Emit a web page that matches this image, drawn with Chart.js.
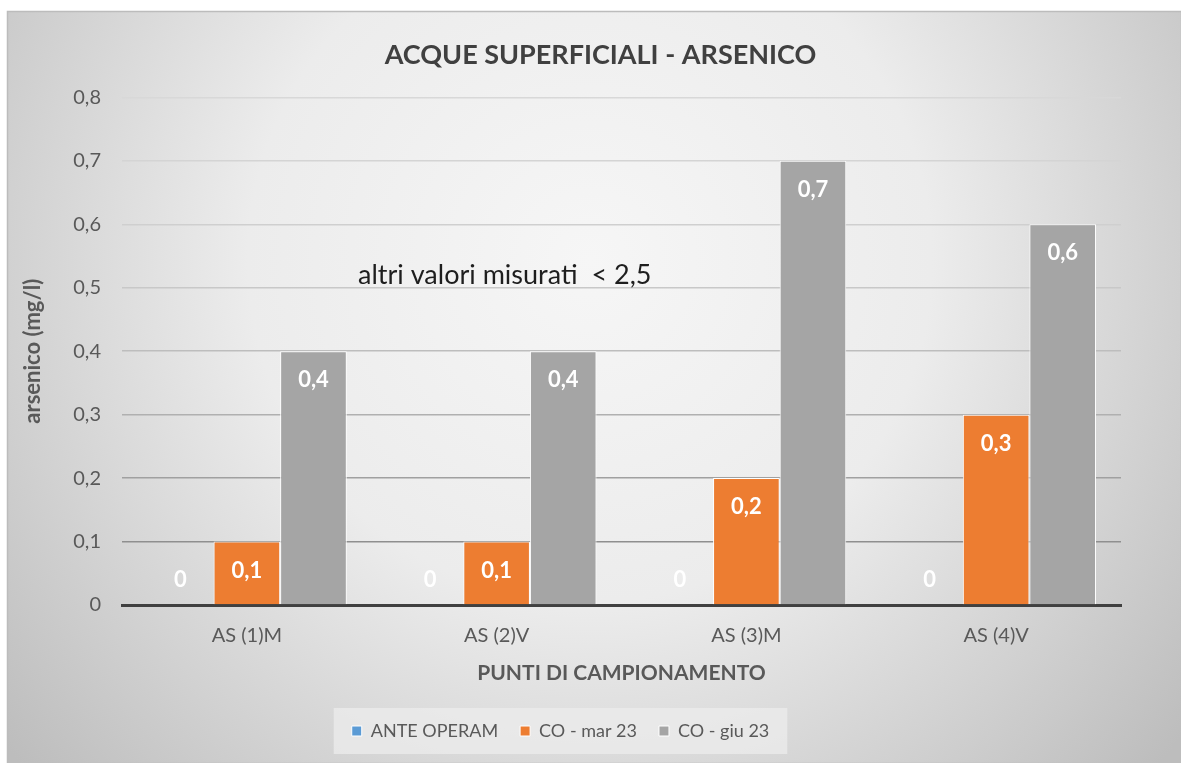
<!DOCTYPE html>
<html>
<head>
<meta charset="utf-8">
<title>Acque superficiali - arsenico</title>
<script src="https://cdn.jsdelivr.net/npm/chart.js@4.4.1/dist/chart.umd.min.js"></script>
<style>
    html, body { margin: 0; padding: 0; background: #ffffff; }
    #wrap { width: 1181px; height: 763px; position: relative; }
</style>
</head>
<body>
<div id="wrap"><canvas id="arsenicoChart" width="1181" height="763"></canvas></div>
<script>
// ===== DATA =====

const categories = ["AS (1)M", "AS (2)V", "AS (3)M", "AS (4)V"];
const seriesNames = ["ANTE OPERAM", "CO - mar 23", "CO - giu 23"];
const anteOperam = [0, 0, 0, 0];
const coMar23 = [0.1, 0.1, 0.2, 0.3];
const coGiu23 = [0.4, 0.4, 0.7, 0.6];
const yTickLabels = ["0", "0,1", "0,2", "0,3", "0,4", "0,5", "0,6", "0,7", "0,8"];
const noteText = "altri valori misurati  < 2,5";

// ===== STYLE =====

const FONT = "Lato, 'Open Sans', sans-serif";
const seriesColors = ["#5b9bd5", "#ed7d31", "#a5a5a5"];
const gridColors = ["#404040", "#8f8f8f", "#a0a0a0", "#b0b0b0", "#bdbdbd", "#c8c8c8", "#cfcfcf", "#d4d4d4", "#d8d8d8"];

const fmt = v => String(v).replace(".", ",");

// background, frame and legend box
const backdrop = {
    id: "backdrop",
    beforeDraw(chart) {
        const ctx = chart.ctx;
        ctx.save();
        ctx.fillStyle = "#ffffff";
        ctx.fillRect(0, 0, chart.width, chart.height);

        const g = ctx.createRadialGradient(590, 260, 0, 590, 260, 760);
        g.addColorStop(0, "#f6f6f6");
        g.addColorStop(0.45, "#ececec");
        g.addColorStop(1, "#bdbdbd");
        ctx.fillStyle = g;
        ctx.fillRect(7, 11, chart.width - 7, chart.height - 11);
        ctx.strokeStyle = "#bcbcbc";
        ctx.lineWidth = 1.5;
        ctx.strokeRect(7.5, 11.5, chart.width - 7, chart.height - 11);

        // legend panel
        const boxes = chart.legend.legendHitBoxes;
        if (boxes && boxes.length) {
            const first = boxes[0];
            const last = boxes[boxes.length - 1];
            const cy = first.top + first.height / 2;
            ctx.fillStyle = "rgba(236,236,236,0.75)";
            ctx.fillRect(first.left - 18, cy - 23, last.left + last.width - first.left + 36, 46);
        }
        ctx.restore();
    },
    afterLayout(chart) {
        // title sits centred on the whole frame, a bit right of the layout centre
        chart.titleBlock.left += 36;
        chart.titleBlock.right += 36;
        chart.legend.left -= 4;
        chart.legend.right -= 4;
    }
};

// white value labels + free text note
const valueLabels = {
    id: "valueLabels",
    afterDatasetsDraw(chart) {
        const ctx = chart.ctx;
        const x = chart.scales.x;
        const y = chart.scales.y;
        ctx.save();
        ctx.font = "bold 22px " + FONT;
        ctx.fillStyle = "#ffffff";
        ctx.textAlign = "center";
        ctx.textBaseline = "middle";
        chart.data.datasets.forEach((ds, i) => {
            const meta = chart.getDatasetMeta(i);
            meta.data.forEach((bar, j) => {
                const v = ds.data[j];
                const py = v === 0 ? bar.base - 25 : bar.y + 29;
                ctx.fillText(fmt(v), bar.x, py);
            });
        });

        ctx.font = "27px " + FONT;
        ctx.fillStyle = "#1e1e1e";
        ctx.textAlign = "left";
        ctx.textBaseline = "alphabetic";
        ctx.fillText(noteText, x.getPixelForValue(0.445), y.getPixelForValue(0.506));
        ctx.restore();
    }
};

new Chart(document.getElementById("arsenicoChart"), {
    type: "bar",
    data: {
        labels: categories,
        datasets: [
            { label: seriesNames[0], data: anteOperam, backgroundColor: seriesColors[0] },
            { label: seriesNames[1], data: coMar23, backgroundColor: seriesColors[1] },
            { label: seriesNames[2], data: coGiu23, backgroundColor: seriesColors[2] }
        ].map(d => Object.assign(d, {
            borderColor: "#ffffff",
            borderWidth: 1,
            categoryPercentage: 0.8,
            barPercentage: 1.0
        }))
    },
    options: {
        responsive: false,
        animation: false,
        layout: { padding: { left: 8, right: 60, top: 12, bottom: 13 } },
        plugins: {
            title: {
                display: true,
                text: "ACQUE SUPERFICIALI - ARSENICO",
                color: "#404040",
                font: { family: FONT, size: 27, weight: "bold" },
                padding: { top: 27, bottom: 26 }
            },
            legend: {
                position: "bottom",
                labels: {
                    color: "#595959",
                    font: { family: FONT, size: 18 },
                    boxWidth: 10,
                    boxHeight: 10,
                    padding: 22
                }
            },
            tooltip: { enabled: false }
        },
        scales: {
            x: {
                z: 1,
                afterFit(scale) { scale.height = 95; },
                grid: { display: false, drawTicks: false },
                border: { display: true, color: "#404040", width: 3 },
                ticks: {
                    color: "#595959",
                    font: { family: FONT, size: 20 },
                    padding: 19
                },
                title: {
                    display: true,
                    text: "PUNTI DI CAMPIONAMENTO",
                    color: "#595959",
                    font: { family: FONT, size: 21, weight: "bold" },
                    padding: { top: 14, bottom: 14 }
                }
            },
            y: {
                min: 0,
                max: 0.8,
                afterFit(scale) { scale.width = 114; },
                border: { display: false },
                grid: {
                    drawTicks: false,
                    lineWidth: 1.5,
                    color: ctx => gridColors[ctx.index] || "#d8d8d8"
                },
                ticks: {
                    stepSize: 0.1,
                    color: "#595959",
                    font: { family: FONT, size: 20 },
                    padding: 21,
                    callback: (value, index) => yTickLabels[index]
                },
                title: {
                    display: true,
                    text: "arsenico (mg/l)",
                    color: "#595959",
                    font: { family: FONT, size: 22, weight: "bold" },
                    padding: { top: 12, bottom: 10 }
                }
            }
        }
    },
    plugins: [backdrop, valueLabels]
});
</script>
</body>
</html>
